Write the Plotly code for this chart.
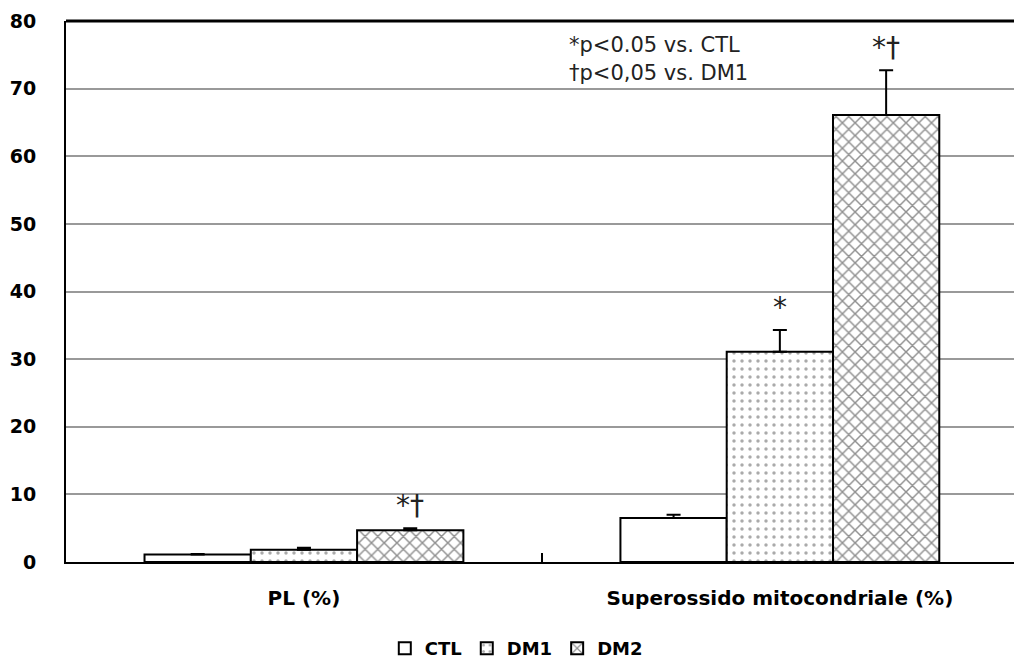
import plotly.graph_objects as go

categories = ["PL (%)", "Superossido mitocondriale (%)"]
ctl = [1.1, 6.5]
ctl_err = [0.1, 0.5]
dm1 = [1.8, 31.1]
dm1_err = [0.3, 3.2]
dm2 = [4.7, 66.1]
dm2_err = [0.3, 6.6]

fig = go.Figure()
series = [
    ("CTL", ctl, ctl_err, dict(bgcolor="white", shape="")),
    ("DM1", dm1, dm1_err, dict(shape=".", fgcolor="#555555", bgcolor="white", size=8, solidity=0.15)),
    ("DM2", dm2, dm2_err, dict(shape="x", fgcolor="#222222", bgcolor="white", size=9, solidity=0.3)),
]
for name, vals, err, pat in series:
    fig.add_trace(go.Bar(
        name=name, x=categories, y=vals,
        marker=dict(color="white", line=dict(color="black", width=2), pattern=pat),
        error_y=dict(type="data", array=err, arrayminus=[0] * len(err), symmetric=False,
                     color="black", thickness=2, width=7),
    ))

fig.update_layout(
    width=1014, height=671,
    margin=dict(l=66, r=0, t=21, b=109),
    plot_bgcolor="white", paper_bgcolor="white",
    barmode="group", bargap=0.33, bargroupgap=0,
    font=dict(family="DejaVu Sans", color="black"),
    legend=dict(orientation="h", x=0.475, xanchor="center", y=-0.16, yanchor="middle",
                font=dict(family="DejaVu Sans", size=18, color="black", weight="bold"),
                itemwidth=30, tracegroupgap=0),
    showlegend=True,
)
fig.update_xaxes(
    range=[-0.5, 1.492], showline=True, linecolor="black", linewidth=2,
    ticks="inside", tickson="boundaries", ticklen=9, tickcolor="black", tickwidth=2,
    tickfont=dict(family="DejaVu Sans", size=20, color="black", weight="bold"),
    showgrid=False, ticklabelstandoff=17,
)
fig.update_yaxes(
    range=[0, 80], dtick=10, showline=True, linecolor="black", linewidth=2,
    showgrid=True, gridcolor="#999999", gridwidth=2, zeroline=False,
    tickfont=dict(family="DejaVu Sans", size=19, color="black", weight="bold"),
    ticks="", ticklabelstandoff=24,
)
fig.add_shape(type="line", xref="paper", yref="paper", x0=0, x1=1, y0=1, y1=1,
              line=dict(color="black", width=3))

fig.add_annotation(xref="paper", yref="paper", x=0.529, y=0.955, text="*p<0.05 vs. CTL",
                   showarrow=False, xanchor="left", yanchor="middle",
                   font=dict(family="DejaVu Sans", size=21, color="#222222"))
fig.add_annotation(xref="paper", yref="paper", x=0.529, y=0.903, text="\u2020p<0,05 vs. DM1",
                   showarrow=False, xanchor="left", yanchor="middle",
                   font=dict(family="DejaVu Sans", size=21, color="#222222"))

sig = [(0.222, dm2, dm2_err, 0, "*\u2020"), (0.0, dm1, dm1_err, 1, "*"),
       (0.222, dm2, dm2_err, 1, "*\u2020")]
for off, arr, errs, i, txt in sig:
    fig.add_annotation(x=i + off, y=arr[i] + errs[i], text=txt, showarrow=False,
                       yanchor="bottom", yshift=4, xref="x", yref="y",
                       font=dict(family="DejaVu Sans", size=28, color="#222222"))

fig.write_html("out.html")
